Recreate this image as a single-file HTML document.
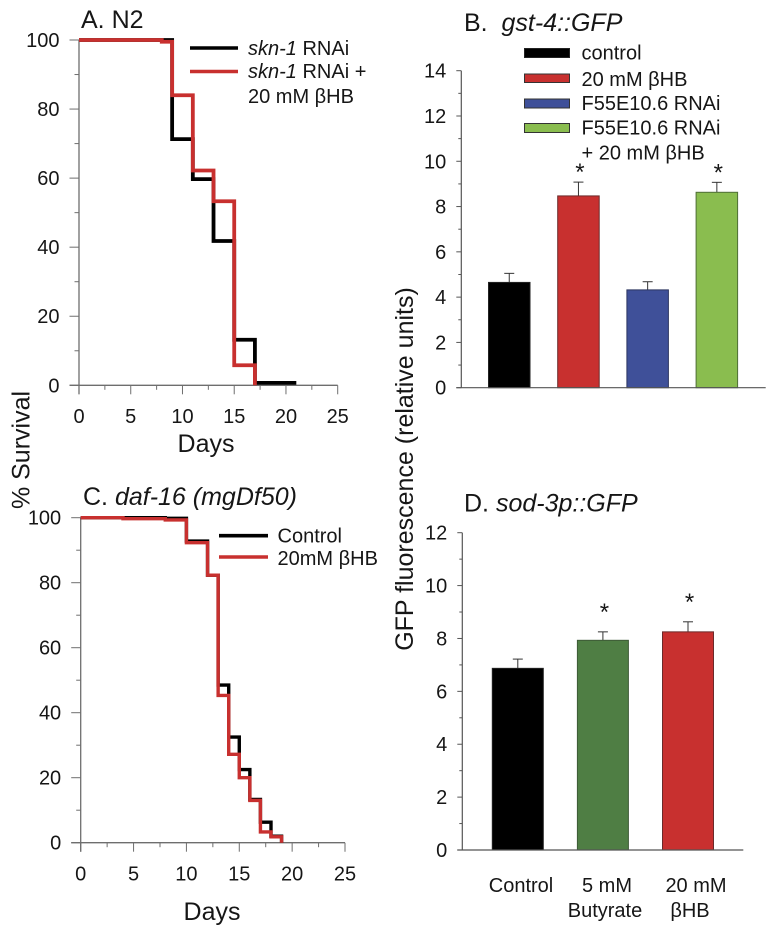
<!DOCTYPE html>
<html lang="en">
<head>
<meta charset="utf-8">
<title>Survival and GFP fluorescence panels</title>
<style>
  html, body { margin: 0; padding: 0; background: #fff; }
  svg { display: block; }
  text { font-family: "Liberation Sans", "DejaVu Sans", sans-serif; fill: #161616; }
  .tick { font-size: 20px; }
  .leg { font-size: 20px; }
  .title { font-size: 25px; }
  .axt { font-size: 25px; }
</style>
</head>
<body>
<svg id="fig" xmlns="http://www.w3.org/2000/svg" width="771" height="932" viewBox="0 0 771 932">
  <text class="title" x="81" y="28">A. N2</text>
  <text class="title" x="464" y="31" xml:space="preserve">B.  <tspan font-style="italic">gst-4::GFP</tspan></text>
  <text class="title" x="83" y="505">C. <tspan font-style="italic">daf-16 (mgDf50)</tspan></text>
  <text class="title" x="464" y="511.5">D. <tspan font-style="italic">sod-3p::GFP</tspan></text>

  <text class="axt" x="206" y="452" text-anchor="middle">Days</text>
  <text class="axt" x="212" y="920" text-anchor="middle">Days</text>
  <text class="axt" transform="translate(29.5,450) rotate(-90)" text-anchor="middle">% Survival</text>
  <text class="axt" transform="translate(413,469) rotate(-90)" text-anchor="middle">GFP fluorescence (relative units)</text>

  <g>
    <line x1="190" y1="48" x2="238" y2="48" stroke="#000" stroke-width="3.6"/>
    <line x1="190" y1="71.5" x2="238" y2="71.5" stroke="#c8302f" stroke-width="3.6"/>
    <text class="leg" x="248" y="55"><tspan font-style="italic">skn-1</tspan> RNAi</text>
    <text class="leg" x="248" y="78"><tspan font-style="italic">skn-1</tspan> RNAi +</text>
    <text class="leg" x="248" y="103">20 mM βHB</text>
  </g>
  <g>
    <line x1="219" y1="535.7" x2="268" y2="535.7" stroke="#000" stroke-width="3.6"/>
    <line x1="219" y1="557" x2="268" y2="557" stroke="#c8302f" stroke-width="3.6"/>
    <text class="leg" x="277.5" y="542.5">Control</text>
    <text class="leg" x="277.5" y="565">20mM βHB</text>
  </g>
  <g>
    <rect x="524.5" y="48.5" width="45" height="9" fill="#000" stroke="#222"/>
    <rect x="524.5" y="74" width="45" height="8.5" fill="#c8302f" stroke="#333"/>
    <rect x="524.5" y="99" width="45" height="9" fill="#3f5099" stroke="#333"/>
    <rect x="524.5" y="123.5" width="45" height="9" fill="#8abd4f" stroke="#333"/>
    <text class="leg" x="581.5" y="59.5">control</text>
    <text class="leg" x="581.5" y="86">20 mM βHB</text>
    <text class="leg" x="581.5" y="110">F55E10.6 RNAi</text>
    <text class="leg" x="581.5" y="134.5">F55E10.6 RNAi</text>
    <text class="leg" x="581.5" y="159.5">+ 20 mM βHB</text>
  </g>

  <g>
    <text class="leg" x="521" y="892" text-anchor="middle">Control</text>
    <text class="leg" x="607" y="892" text-anchor="middle">5 mM</text>
    <text class="leg" x="605" y="917" text-anchor="middle">Butyrate</text>
    <text class="leg" x="696" y="892" text-anchor="middle">20 mM</text>
    <text class="leg" x="690" y="917" text-anchor="middle">βHB</text>
  </g>
</svg>
<script>
// Panel A data
const panelADaysBlack = [0, 9, 11, 13, 15, 17, 21];
const panelASurvivalBlack = [100, 71.3, 59.7, 41.8, 13.2, 0.7, 0.7];
const panelADaysRed = [0, 8, 9, 11, 13, 15, 17];
const panelASurvivalRed = [100, 99.5, 84, 62.2, 53.3, 5.8, 0];

// Panel C data
const panelCDaysBlack = [0, 8, 10, 12, 13, 14, 15, 16, 17, 18, 19];
const panelCSurvivalBlack = [100, 99.8, 92.8, 82.3, 48.5, 32.5, 22.5, 13.3, 6.3, 2, 0];
const panelCDaysRed = [0, 4, 8, 10, 12, 13, 14, 15, 16, 17, 18, 19];
const panelCSurvivalRed = [100, 99.7, 99.3, 92.3, 82.3, 45.3, 27.2, 20, 13, 3.3, 1.8, 0];

// Survival axis ticks
const survivalXTicks = [0, 5, 10, 15, 20, 25];
const survivalYTicks = [0, 20, 40, 60, 80, 100];

// Panel B data
const panelBCategories = ['control', '20 mM bHB', 'F55E10.6 RNAi', 'F55E10.6 RNAi + 20 mM bHB'];
const panelBValues = [4.65, 8.47, 4.32, 8.63];
const panelBErrors = [0.4, 0.61, 0.36, 0.44];
const panelBStars = [false, true, false, true];
const panelBTicks = [0, 2, 4, 6, 8, 10, 12, 14];

// Panel D data
const panelDCategories = ['Control', '5 mM Butyrate', '20 mM bHB'];
const panelDValues = [6.87, 7.93, 8.25];
const panelDErrors = [0.35, 0.32, 0.38];
const panelDStars = [false, true, true];
const panelDTicks = [0, 2, 4, 6, 8, 10, 12];

const NS = 'http://www.w3.org/2000/svg';
const fig = document.getElementById('fig');

function mk(tag, attrs, parent) {
  const el = document.createElementNS(NS, tag);
  for (const k in attrs) el.setAttribute(k, attrs[k]);
  (parent || fig).appendChild(el);
  return el;
}
function scale(d0, d1, r0, r1) {
  return function (v) { return r0 + (v - d0) * (r1 - r0) / (d1 - d0); };
}
function stepPath(days, vals, x, y) {
  let d = 'M' + x(days[0]) + ' ' + y(vals[0]);
  for (let i = 1; i < days.length; i++) {
    d += 'H' + x(days[i]) + 'V' + y(vals[i]);
  }
  return d;
}

function drawSurvival(cfg) {
  const x = scale(0, 25, cfg.x0, cfg.x1);
  const y = scale(0, 100, cfg.y0, cfg.y1);
  const axisColor = '#6e6e6e';

  const g = mk('g', {});
  
  

  const yAxis = mk('line', { x1: x(0), x2: x(0), y1: y(100), y2: y(0) + 9, stroke: axisColor, 'stroke-width': 1.3 }, g);
  
  
  const xAxis = mk('line', { x1: x(0) - 9.5, x2: x(25), y1: y(0), y2: y(0), stroke: axisColor, 'stroke-width': 1.3 }, g);
  
  

  survivalYTicks.forEach(function (v, i) {
    const t = mk('line', { x1: x(0) - 9.5, x2: x(0), y1: y(v), y2: y(v), stroke: axisColor, 'stroke-width': 1 }, g);
    
    
    const lbl = mk('text', { class: 'tick', x: x(0) - 19.5, y: y(v) + 7, 'text-anchor': 'end' }, g);
    lbl.textContent = v;
    
    
    if (i < survivalYTicks.length - 1) {
      const mid = (v + survivalYTicks[i + 1]) / 2;
      const m = mk('line', { x1: x(0) - 4.5, x2: x(0), y1: y(mid), y2: y(mid), stroke: axisColor, 'stroke-width': 1 }, g);
      
      
    }
  });
  survivalXTicks.forEach(function (v, i) {
    const t = mk('line', { x1: x(v), x2: x(v), y1: y(0), y2: y(0) + 9, stroke: axisColor, 'stroke-width': 1 }, g);
    
    
    const lbl = mk('text', { class: 'tick', x: x(v), y: y(0) + cfg.labelDy, 'text-anchor': 'middle' }, g);
    lbl.textContent = v;
    
    
    if (i < survivalXTicks.length - 1) {
      const mid = (v + survivalXTicks[i + 1]) / 2;
      const m = mk('line', { x1: x(mid), x2: x(mid), y1: y(0), y2: y(0) + 4.5, stroke: axisColor, 'stroke-width': 1 }, g);
      
      
    }
  });

  const black = mk('path', { d: stepPath(cfg.bd, cfg.bv, x, y), fill: 'none', stroke: '#000', 'stroke-width': cfg.w, 'stroke-linejoin': 'miter' }, g);
  
  
  const red = mk('path', { d: stepPath(cfg.rd, cfg.rv, x, y), fill: 'none', stroke: '#c8302f', 'stroke-width': cfg.w, 'stroke-linejoin': 'miter' }, g);
  
  
}

function drawBars(cfg) {
  const y = scale(0, cfg.max, cfg.y0, cfg.y1);
  const axisColor = '#555';
  const g = mk('g', {});
  
  

  const yAxis = mk('line', { x1: cfg.ax, x2: cfg.ax, y1: y(cfg.max), y2: y(0), stroke: axisColor, 'stroke-width': 1.2 }, g);
  
  

  cfg.ticks.forEach(function (v, i) {
    const t = mk('line', { x1: cfg.ax - 5, x2: cfg.ax, y1: y(v), y2: y(v), stroke: axisColor, 'stroke-width': 1 }, g);
    
    
    const lbl = mk('text', { class: 'tick', x: cfg.ax - 15, y: y(v) + 7, 'text-anchor': 'end' }, g);
    lbl.textContent = v;
    
    
    if (i < cfg.ticks.length - 1) {
      const mid = (v + cfg.ticks[i + 1]) / 2;
      const m = mk('line', { x1: cfg.ax - 3, x2: cfg.ax, y1: y(mid), y2: y(mid), stroke: axisColor, 'stroke-width': 1 }, g);
      
      
    }
  });

  cfg.values.forEach(function (v, i) {
    const left = cfg.first + i * cfg.step;
    const cx = left + cfg.bw / 2;
    const top = y(v + cfg.errors[i]);
    const stem = mk('line', { x1: cx, x2: cx, y1: top, y2: y(v), stroke: '#333', 'stroke-width': 1 }, g);
    
    
    const cap = mk('line', { x1: cx - 5, x2: cx + 5, y1: top, y2: top, stroke: '#333', 'stroke-width': 1 }, g);
    
    
    const bar = mk('rect', { x: left, y: y(v), width: cfg.bw, height: y(0) - y(v), fill: cfg.colors[i], stroke: cfg.strokes[i], 'stroke-width': 1 }, g);
    
    
    const title = mk('title', {}, bar);
    title.textContent = cfg.categories[i];
    if (cfg.stars[i]) {
      const s = mk('text', { x: cx + 1.5, y: top - cfg.starGap, 'text-anchor': 'middle', 'font-size': 24 }, g);
      s.textContent = '*';
      
      
    }
  });

  const xAxis = mk('line', { x1: cfg.ax - 5, x2: cfg.xEnd, y1: y(0), y2: y(0), stroke: axisColor, 'stroke-width': 1.2 }, g);
  
  
}

drawSurvival({ name: 'panel-a-survival-chart', x0: 79, x1: 337.7, y0: 385.3, y1: 40, labelDy: 37.5, w: 3.8,
  bd: panelADaysBlack, bv: panelASurvivalBlack, rd: panelADaysRed, rv: panelASurvivalRed });
drawSurvival({ name: 'panel-c-survival-chart', x0: 80.7, x1: 345, y0: 842.7, y1: 517.7, labelDy: 38, w: 3.4,
  bd: panelCDaysBlack, bv: panelCSurvivalBlack, rd: panelCDaysRed, rv: panelCSurvivalRed });

drawBars({ name: 'panel-b-bar-chart', ax: 461.3, y0: 387.7, y1: 70.7, max: 14, first: 488.5, step: 69.2, bw: 41.5, xEnd: 765.7,
  ticks: panelBTicks, values: panelBValues, errors: panelBErrors, stars: panelBStars, categories: panelBCategories,
  colors: ['#000', '#c8302f', '#3f5099', '#8abd4f'], strokes: ['#222', '#6b2a2a', '#2c3560', '#4e6e36'], starGap: 2 });
drawBars({ name: 'panel-d-bar-chart', ax: 462.3, y0: 850, y1: 532.7, max: 12, first: 492.3, step: 85.1, bw: 51, xEnd: 743.3,
  ticks: panelDTicks, values: panelDValues, errors: panelDErrors, stars: panelDStars, categories: panelDCategories,
  colors: ['#000', '#4f7e44', '#c8302f'], strokes: ['#222', '#3c5a36', '#6b2a2a'], starGap: 12 });
</script>
</body>
</html>
